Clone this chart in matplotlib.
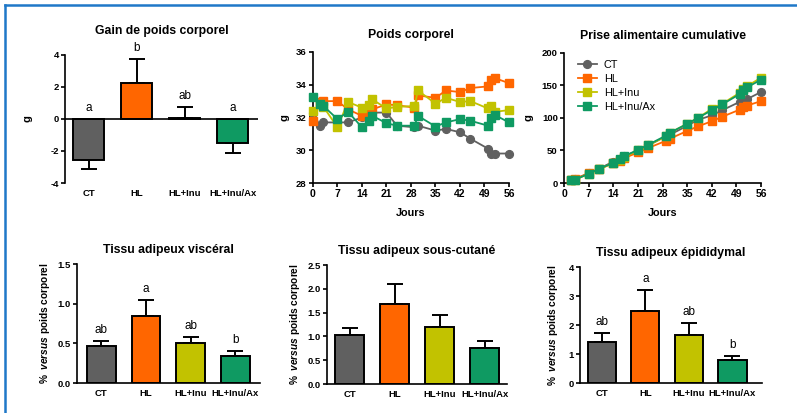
import matplotlib
matplotlib.use('Agg')
import matplotlib.pyplot as plt
from matplotlib.lines import Line2D
import numpy as np

plt.rcParams['font.family'] = ['Liberation Sans', 'DejaVu Sans']
plt.rcParams['mathtext.fontset'] = 'custom'
plt.rcParams['mathtext.it'] = 'Liberation Sans:italic:bold'
plt.rcParams['axes.linewidth'] = 1.2
plt.rcParams['axes.unicode_minus'] = False

groups = ['CT', 'HL', 'HL+Inu', 'HL+Inu/Ax']
colors = ['#606060', '#ff6600', '#c2c200', '#0f9a62']
markers = ['o', 's', 's', 's']

# gain de poids corporel (g)
gain = [-2.55, 2.25, 0.05, -1.5]
gain_err = [0.55, 1.5, 0.7, 0.6]
gain_letters = ['a', 'b', 'ab', 'a']

# poids corporel (g) par jour
days_bw = [0, 2, 3, 7, 10, 14, 16, 17, 21, 24, 29, 30, 35, 38, 42, 45, 50, 51, 52, 56]
bw_ct = [32.3, 31.5, 31.7, 31.7, 31.7, 32.0, 32.2, 32.3, 32.3, 31.5, 31.4, 31.5,
         31.2, 31.3, 31.1, 30.7, 30.1, 29.8, 29.8, 29.8]
bw_hl = [31.8, 32.95, 33.0, 33.0, 32.5, 32.1, 32.3, 32.5, 32.8, 32.75, 32.6, 33.35,
         33.2, 33.65, 33.55, 33.8, 33.9, 34.3, 34.4, 34.1]
bw_inu = [32.4, 32.8, 32.65, 31.4, 32.95, 32.6, 32.75, 33.1, 32.55, 32.65, 32.7, 33.65,
          32.85, 33.2, 32.95, 33.0, 32.55, 32.7, 32.35, 32.45]
bw_ax = [33.25, 32.8, 32.7, 31.9, 32.35, 31.4, 31.8, 32.1, 31.65, 31.5, 31.5, 32.1,
         31.45, 31.7, 31.9, 31.8, 31.5, 31.95, 32.15, 31.7]

# prise alimentaire cumulative (g)
days_fi = [2, 3, 7, 10, 14, 16, 17, 21, 24, 29, 30, 35, 38, 42, 45, 50, 51, 52, 56]
fi_ct = [5, 6, 15, 22, 33, 37, 41, 50, 58, 72, 74, 88, 97, 104, 112, 125, 128, 129, 140]
fi_hl = [4, 6, 15, 21, 31, 34, 38, 47, 54, 65, 68, 80, 87, 95, 102, 113, 117, 119, 126]
fi_inu = [4, 5, 14, 21, 31, 36, 40, 50, 58, 72, 77, 91, 100, 114, 122, 139, 144, 149, 162]
fi_ax = [4, 5, 14, 22, 31, 37, 41, 51, 59, 73, 77, 91, 100, 112, 121, 137, 143, 147, 159]

# tissus adipeux (% versus poids corporel)
visc = [0.47, 0.85, 0.51, 0.34]
visc_err = [0.06, 0.2, 0.07, 0.06]
visc_letters = ['ab', 'a', 'ab', 'b']
sc = [1.03, 1.68, 1.19, 0.76]
sc_err = [0.15, 0.43, 0.27, 0.14]
epi = [1.43, 2.48, 1.66, 0.79]
epi_err = [0.29, 0.72, 0.4, 0.14]
epi_letters = ['ab', 'a', 'ab', 'b']

TITLE_FS = 8.8
TICK_FS = 6.8
YLAB = '%  $\\mathit{versus}$ poids corporel'


def style_axes(ax):
    ax.spines['top'].set_visible(False)
    ax.spines['right'].set_visible(False)
    ax.tick_params(axis='both', labelsize=TICK_FS, width=1.2, length=3, pad=1.5)
    for lab in ax.get_xticklabels() + ax.get_yticklabels():
        lab.set_fontweight('bold')


def bar_panel(ax, vals, errs, letters, title, yticks, ylabel, xlim, ylabel_pad, tpad=8):
    x = np.arange(len(groups))
    ax.bar(x, vals, width=0.65, color=colors, edgecolor='black', linewidth=1.4, zorder=2)
    lo = [e if v < 0 else 0 for v, e in zip(vals, errs)]
    hi = [0 if v < 0 else e for v, e in zip(vals, errs)]
    ax.errorbar(x, vals, yerr=[lo, hi], fmt='none', ecolor='black', elinewidth=1.4,
                capsize=5.5, capthick=1.4, zorder=1)
    ax.set_xlim(*xlim)
    ax.set_ylim(yticks[0], yticks[-1])
    ax.set_yticks(yticks)
    ax.set_xticks(x)
    ax.set_xticklabels(groups)
    style_axes(ax)
    ax.tick_params(axis='x', length=0, pad=4)
    ax.set_title(title, fontsize=TITLE_FS, fontweight='bold', pad=tpad)
    ax.set_ylabel(ylabel, fontsize=7.3, fontweight='bold', labelpad=ylabel_pad)
    if letters:
        for xi, v, e, t in zip(x, vals, errs, letters):
            top = v + e if v >= 0 else 0
            ax.annotate(t, (xi, top), xytext=(0, 3.5), textcoords='offset points',
                        ha='center', va='bottom', fontsize=8.5, annotation_clip=False)


def line_panel(ax, days, series, title, ylim, yticks, ylabel_pad):
    for s, c, m, name in zip(series, colors, markers, groups):
        ax.plot(days, s, color=c, marker=m, markersize=5.6, linewidth=1.3,
                label=name, clip_on=False, zorder=3)
    ax.set_xlim(0, 56)
    ax.set_ylim(*ylim)
    ax.set_xticks(np.arange(0, 57, 7))
    ax.set_yticks(yticks)
    style_axes(ax)
    ax.tick_params(axis='x', labelsize=7.5)
    for lab in ax.get_xticklabels():
        lab.set_fontweight('bold')
    ax.set_title(title, fontsize=TITLE_FS, fontweight='bold', pad=10)
    ax.set_xlabel('Jours', fontsize=7.8, fontweight='bold', labelpad=6)
    ax.set_ylabel('g', fontsize=8, fontweight='bold', labelpad=ylabel_pad)


fig = plt.figure(figsize=(7.97, 4.13), dpi=100)

ax1 = fig.add_axes([0.0816, 0.5569, 0.2422, 0.31])
bar_panel(ax1, gain, gain_err, gain_letters, 'Gain de poids corporel',
          [-4, -2, 0, 2, 4], 'g', (-0.49, 3.53), 13, tpad=15)
ax1.spines['bottom'].set_visible(False)
ax1.axhline(0, color='black', linewidth=1.2, zorder=3)
ax1.yaxis.label.set_fontsize(8)

ax2 = fig.add_axes([0.3927, 0.5569, 0.2459, 0.3172])
line_panel(ax2, days_bw, [bw_ct, bw_hl, bw_inu, bw_ax], 'Poids corporel',
           (28, 36), [28, 30, 32, 34, 36], 5)

ax3 = fig.add_axes([0.7077, 0.5569, 0.2472, 0.3148])
line_panel(ax3, days_fi, [fi_ct, fi_hl, fi_inu, fi_ax], 'Prise alimentaire cumulative',
           (0, 200), [0, 50, 100, 150, 200], 6)
ax3.legend(loc='upper left', bbox_to_anchor=(0.02, 1.02), frameon=False, fontsize=7.8,
           handlelength=1.8, handletextpad=0.6, labelspacing=0.35)

ax4 = fig.add_axes([0.0966, 0.0726, 0.2296, 0.2881])
bar_panel(ax4, visc, visc_err, visc_letters, 'Tissu adipeux viscéral',
          [0.0, 0.5, 1.0, 1.5], YLAB, (-0.55, 3.56), 4)
ax4.set_yticklabels(['0.0', '0.5', '1.0', '1.5'])

ax5 = fig.add_axes([0.4103, 0.0702, 0.2258, 0.2881])
bar_panel(ax5, sc, sc_err, None, 'Tissu adipeux sous-cutané',
          [0.0, 0.5, 1.0, 1.5, 2.0, 2.5], YLAB, (-0.51, 3.5), 4)
ax5.set_yticklabels(['0.0', '0.5', '1.0', '1.5', '2.0', '2.5'])

ax6 = fig.add_axes([0.7277, 0.0726, 0.2284, 0.2809])
bar_panel(ax6, epi, epi_err, epi_letters, 'Tissu adipeux épididymal',
          [0, 1, 2, 3, 4], YLAB, (-0.5, 3.68), 6)

for ax in (ax4, ax5, ax6):
    for lab in ax.get_yticklabels():
        lab.set_fontweight('bold')
        lab.set_fontsize(TICK_FS)

# blue frame on top and left
fig.add_artist(Line2D([5 / 797, 1], [1 - 5 / 413, 1 - 5 / 413], color='#1f78c8',
                      linewidth=1.8, transform=fig.transFigure))
fig.add_artist(Line2D([5 / 797, 5 / 797], [0, 1 - 5 / 413], color='#1f78c8',
                      linewidth=1.8, transform=fig.transFigure))

fig.savefig('out.png', dpi=100)
